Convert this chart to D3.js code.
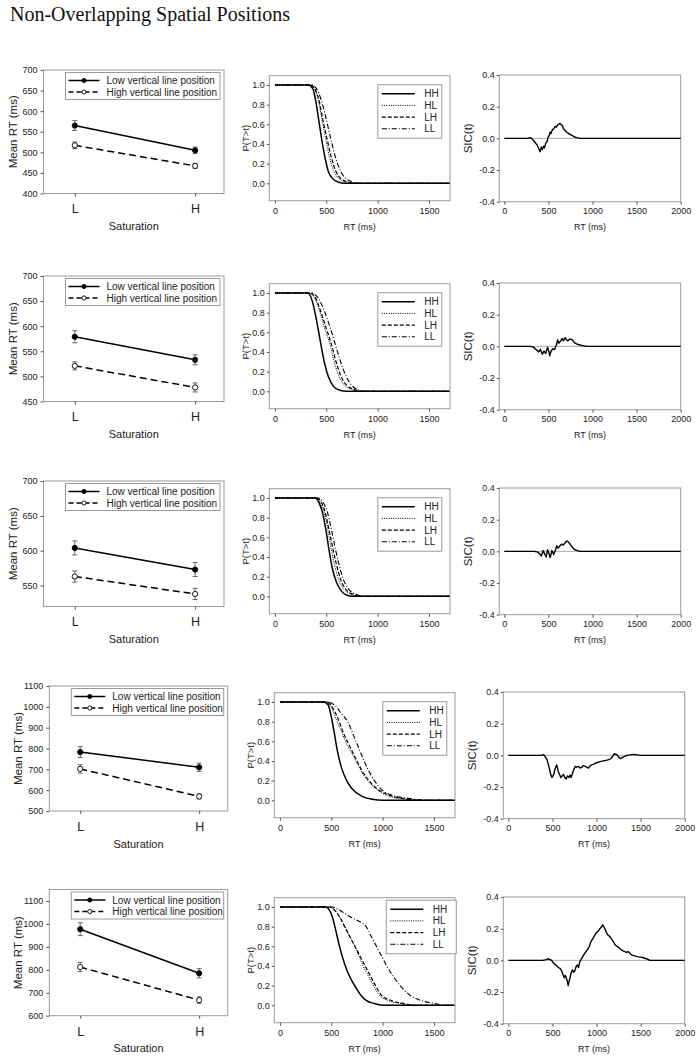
<!DOCTYPE html>
<html><head><meta charset="utf-8">
<script src="https://cdn.jsdelivr.net/npm/d3@7"></script>
<style>
body{margin:0;background:#fff;}
svg{display:block;}
text{font-family:"Liberation Sans",Arial,sans-serif;fill:#222;}
</style></head><body>
<svg id="c" width="700" height="1062"></svg>
<script>
// ---------------- DATA ----------------
const title = "Non-Overlapping Spatial Positions";
const saturation = ["L", "H"];
const meanSeriesNames = ["Low vertical line position", "High vertical line position"];
const condNames = ["HH", "HL", "LH", "LL"];

// Mean RT per row: [L, H]
const lowMean  = [[565,505],[579,533],[604,573],[783,710],[977,785]];
const lowErr   = [[12,8],[12,10],[10,10],[26,20],[28,20]];
const highMean = [[517,467],[521,478],[563,538],[702,570],[812,668]];
const highErr  = [[8,6],[8,9],[8,8],[20,12],[20,14]];
const meanDomains = [[400,700],[450,700],[520,700],[500,1100],[600,1150]];
const meanTicks = [
  [400,450,500,550,600,650,700],
  [450,500,550,600,650,700],
  [550,600,650,700],
  [500,600,700,800,900,1000,1100],
  [600,700,800,900,1000,1100]
];
const survTicksY = [0,0.2,0.4,0.6,0.8,1.0];
const survTicksX = [0,500,1000,1500];
const sicTicksY = [-0.4,-0.2,0,0.2,0.4];
const sicTicksX = [0,500,1000,1500,2000];

// Survivor functions P(T>t), one array per row: [t, p]
const survHH = [
 [[0,1],[330,1],[370,0.96],[400,0.82],[430,0.62],[460,0.42],[490,0.25],[520,0.12],[560,0.05],[620,0.01],[680,0],[1700,0]],
 [[0,1],[320,1],[360,0.93],[400,0.75],[440,0.52],[480,0.3],[520,0.15],[570,0.05],[630,0.01],[700,0],[1700,0]],
 [[0,1],[390,1],[430,0.95],[470,0.82],[500,0.65],[530,0.45],[560,0.28],[600,0.14],[650,0.05],[700,0.01],[760,0],[1700,0]],
 [[0,1],[430,1],[470,0.97],[500,0.85],[530,0.68],[560,0.5],[600,0.33],[650,0.2],[700,0.12],[800,0.04],[900,0.01],[1000,0],[1700,0]],
 [[0,1],[450,1],[480,0.97],[510,0.9],[535,0.8],[580,0.6],[630,0.42],[680,0.29],[740,0.18],[790,0.1],[840,0.05],[910,0.02],[1010,0],[1700,0]]
];
const survHL = [
 [[0,1],[340,1],[380,0.97],[420,0.85],[460,0.64],[500,0.42],[530,0.27],[570,0.13],[620,0.05],[700,0.01],[770,0],[1700,0]],
 [[0,1],[330,1],[390,0.94],[440,0.8],[490,0.62],[530,0.5],[570,0.33],[620,0.16],[680,0.06],[750,0.02],[830,0],[1700,0]],
 [[0,1],[400,1],[440,0.96],[480,0.85],[520,0.65],[550,0.47],[580,0.32],[620,0.17],[680,0.06],[740,0.02],[810,0],[1700,0]],
 [[0,1],[450,1],[500,0.95],[550,0.82],[600,0.7],[650,0.57],[700,0.48],[750,0.38],[800,0.28],[900,0.15],[1000,0.07],[1100,0.03],[1250,0.01],[1350,0],[1700,0]],
 [[0,1],[480,1],[520,0.98],[570,0.92],[620,0.83],[680,0.7],[730,0.6],[770,0.5],[810,0.4],[860,0.3],[910,0.2],[970,0.1],[1050,0.05],[1170,0.02],[1300,0],[1700,0]]
];
const survLH = [
 [[0,1],[345,1],[390,0.96],[430,0.84],[470,0.63],[510,0.44],[550,0.26],[590,0.13],[640,0.05],[720,0.01],[790,0],[1700,0]],
 [[0,1],[340,1],[400,0.94],[450,0.8],[500,0.64],[550,0.48],[590,0.32],[640,0.16],[700,0.06],[770,0.02],[850,0],[1700,0]],
 [[0,1],[405,1],[450,0.96],[490,0.85],[530,0.66],[565,0.48],[600,0.32],[640,0.17],[700,0.06],[760,0.02],[840,0],[1700,0]],
 [[0,1],[460,1],[520,0.93],[570,0.82],[620,0.68],[680,0.55],[740,0.42],[800,0.3],[900,0.16],[1000,0.08],[1100,0.04],[1250,0.01],[1400,0],[1700,0]],
 [[0,1],[480,1],[530,0.97],[580,0.9],[630,0.8],[680,0.7],[730,0.6],[780,0.5],[830,0.4],[880,0.3],[930,0.2],[990,0.1],[1080,0.05],[1200,0.02],[1340,0],[1700,0]]
];
const survLL = [
 [[0,1],[355,1],[400,0.97],[450,0.85],[500,0.65],[540,0.47],[580,0.3],[620,0.17],[670,0.07],[740,0.02],[830,0],[1700,0]],
 [[0,1],[350,1],[420,0.95],[480,0.82],[540,0.64],[590,0.47],[640,0.3],[690,0.16],[740,0.07],[800,0.02],[890,0],[1700,0]],
 [[0,1],[420,1],[460,0.97],[510,0.86],[550,0.68],[585,0.5],[620,0.34],[660,0.19],[720,0.07],[790,0.02],[870,0],[1700,0]],
 [[0,1],[470,1],[540,0.96],[600,0.88],[660,0.8],[720,0.65],[780,0.5],[850,0.33],[920,0.2],[1000,0.1],[1100,0.05],[1250,0.02],[1450,0],[1700,0]],
 [[0,1],[510,1],[560,0.98],[610,0.95],[700,0.89],[780,0.85],[840,0.8],[890,0.7],[940,0.6],[990,0.5],[1040,0.4],[1100,0.3],[1170,0.2],[1270,0.1],[1370,0.05],[1500,0.02],[1600,0],[1700,0]]
];

// SIC(t) per row: [t, sic]
const sic1 = [[0,0],[270,0],[290,0.005],[310,0],[340,-0.02],[370,-0.04],[395,-0.07],[405,-0.085],[420,-0.055],[430,-0.07],[445,-0.05],[455,-0.06],[470,-0.03],[485,-0.02],[495,0.005],[510,0.02],[520,0.04],[530,0.03],[545,0.055],[560,0.06],[575,0.075],[590,0.07],[605,0.085],[620,0.09],[632,0.095],[645,0.085],[660,0.08],[670,0.06],[690,0.05],[705,0.04],[720,0.035],[740,0.025],[765,0.02],[790,0.01],[820,0.005],[860,0],[2000,0]];
const sic2 = [[0,0],[290,0],[330,-0.005],[360,-0.02],[390,-0.035],[410,-0.02],[430,-0.05],[450,-0.03],[470,-0.045],[490,-0.005],[505,-0.03],[515,-0.06],[530,-0.03],[550,-0.015],[570,-0.02],[590,0.01],[605,0.04],[620,0.02],[640,0.035],[655,0.05],[670,0.035],[690,0.055],[705,0.04],[720,0.035],[740,0.045],[760,0.045],[780,0.035],[800,0.02],[820,0.015],[850,0.01],[880,0.005],[930,0],[2000,0]];
const sic3 = [[0,0],[340,0],[380,-0.005],[400,-0.015],[420,-0.03],[440,0.005],[460,-0.02],[475,-0.035],[490,0.01],[505,-0.01],[520,-0.04],[540,0.005],[560,-0.02],[580,0.01],[595,0.035],[610,0.02],[630,0.035],[650,0.045],[670,0.04],[690,0.055],[710,0.065],[725,0.06],[740,0.05],[760,0.035],[780,0.02],[800,0.01],[830,0.005],[860,0],[2000,0]];
const sic4 = [[0,0],[380,0],[400,0.005],[420,-0.01],[440,-0.03],[460,-0.07],[480,-0.12],[495,-0.14],[515,-0.12],[530,-0.085],[549,-0.06],[565,-0.1],[580,-0.12],[595,-0.14],[610,-0.13],[625,-0.12],[640,-0.14],[655,-0.15],[670,-0.13],[685,-0.14],[700,-0.125],[712,-0.14],[735,-0.1],[758,-0.07],[775,-0.075],[795,-0.07],[815,-0.08],[833,-0.075],[850,-0.065],[871,-0.07],[890,-0.075],[909,-0.08],[930,-0.065],[947,-0.06],[970,-0.055],[985,-0.05],[1010,-0.045],[1040,-0.04],[1080,-0.035],[1117,-0.03],[1150,-0.025],[1174,-0.015],[1190,0],[1201,0.01],[1231,0.005],[1250,-0.01],[1269,-0.02],[1290,-0.015],[1307,-0.01],[1345,0],[1383,0.003],[1420,0.006],[1458,0.003],[1496,0],[2000,0]];
const sic5 = [[0,0],[390,0],[430,0.005],[453,0.01],[475,0.005],[491,0],[510,-0.015],[528,-0.025],[550,-0.035],[566,-0.045],[585,-0.05],[604,-0.065],[620,-0.09],[634,-0.11],[645,-0.095],[653,-0.105],[668,-0.13],[679,-0.16],[690,-0.13],[700,-0.11],[712,-0.08],[728,-0.06],[742,-0.075],[755,-0.065],[768,-0.04],[781,-0.03],[795,-0.045],[810,-0.01],[830,0.01],[850,0.03],[868,0.045],[887,0.06],[906,0.075],[920,0.09],[936,0.12],[950,0.13],[962,0.14],[980,0.16],[1000,0.175],[1020,0.185],[1038,0.2],[1055,0.21],[1068,0.225],[1080,0.215],[1095,0.2],[1113,0.175],[1130,0.16],[1151,0.15],[1170,0.135],[1189,0.12],[1210,0.1],[1226,0.09],[1245,0.085],[1264,0.075],[1285,0.065],[1302,0.06],[1320,0.055],[1340,0.05],[1358,0.055],[1378,0.045],[1396,0.035],[1420,0.03],[1453,0.025],[1480,0.022],[1509,0.02],[1540,0.015],[1566,0.01],[1590,0.005],[1604,0],[2000,0]];
const sicRows = [sic1, sic2, sic3, sic4, sic5];

// ---------------- LAYOUT ----------------
const svg = d3.select("#c");
const frameColor = "#9a9a9a";
const tickColor = "#555";

const leftBoxes = [
  {x0:43.5, x1:224, y0:70, y1:193.5},
  {x0:43.5, x1:224, y0:276, y1:401.5},
  {x0:43.5, x1:224, y0:481, y1:606.5},
  {x0:49.3, x1:227.7, y0:686, y1:811},
  {x0:49.3, x1:227.7, y0:889.5, y1:1015.7}
];
const rowOff = [0, 208, 413, 617, 822];
const midShift = [0,0,0,5,5];
const rightShift = [0,0,0,4,4];

svg.append("text").attr("x", 10).attr("y", 21).text(title)
  .style("font-family", "'Liberation Serif','Times New Roman',serif")
  .style("font-size", "20px").style("fill", "#111");

function frame(g, b) {
  g.append("rect").attr("x", b.x0).attr("y", b.y0)
    .attr("width", b.x1 - b.x0).attr("height", b.y1 - b.y0)
    .attr("fill", "none").attr("stroke", frameColor).attr("stroke-width", 1);
}
function styleAxis(g, fs) {
  g.attr("font-family", null).attr("font-size", null);
  g.select(".domain").remove();
  g.selectAll(".tick line").attr("stroke", tickColor);
  g.selectAll(".tick text").style("font-size", fs + "px").attr("fill", "#222");
}

const condStyles = {
  HH: {dash: null, w: 1.5},
  HL: {dash: "1,1.3", w: 1},
  LH: {dash: "4,2", w: 1.2},
  LL: {dash: "5,2,1,2", w: 1.1}
};
const survByCond = {HH: survHH, HL: survHL, LH: survLH, LL: survLL};

for (let i = 0; i < 5; i++) {
  // ----- Left: mean RT -----
  const b = leftBoxes[i];
  const g = svg.append("g");
  const x = d3.scaleLinear().domain([-0.26, 1.24]).range([b.x0, b.x1]);
  const y = d3.scaleLinear().domain(meanDomains[i]).range([b.y1, b.y0]);
  frame(g, b);
  const ya = g.append("g").attr("transform", `translate(${b.x0},0)`)
    .call(d3.axisLeft(y).tickValues(meanTicks[i]).tickFormat(d3.format("d")).tickSize(3).tickPadding(3));
  styleAxis(ya, 9);
  const xa = g.append("g").attr("transform", `translate(0,${b.y1})`)
    .call(d3.axisBottom(x).tickValues([0, 1]).tickFormat(j => saturation[j]).tickSize(3).tickPadding(8));
  styleAxis(xa, 12.5);
  g.append("text").attr("x", (b.x0 + b.x1) / 2).attr("y", b.y1 + 36.5)
    .attr("text-anchor", "middle").style("font-size", "11px").text("Saturation");
  g.append("text").attr("transform", `translate(${b.x0 - 31},${(b.y0 + b.y1) / 2}) rotate(-90)`)
    .attr("text-anchor", "middle").attr("dy", "0.35em").style("font-size", "11.5px").text("Mean RT (ms)");

  const series = [
    {m: lowMean[i], e: lowErr[i], dash: null, fill: "#000"},
    {m: highMean[i], e: highErr[i], dash: "7,4", fill: "#fff"}
  ];
  const line = d3.line().x((d, j) => x(j)).y(d => y(d));
  series.forEach(s => {
    g.append("path").attr("d", line(s.m)).attr("fill", "none").attr("stroke", "#000")
      .attr("stroke-width", 1.5).attr("stroke-dasharray", s.dash);
    s.m.forEach((v, j) => {
      const e = s.e[j];
      g.append("line").attr("x1", x(j)).attr("x2", x(j)).attr("y1", y(v - e)).attr("y2", y(v + e))
        .attr("stroke", "#444").attr("stroke-width", 0.8);
      [v - e, v + e].forEach(c => g.append("line").attr("x1", x(j) - 2.5).attr("x2", x(j) + 2.5)
        .attr("y1", y(c)).attr("y2", y(c)).attr("stroke", "#444").attr("stroke-width", 0.8));
      g.append("circle").attr("cx", x(j)).attr("cy", y(v)).attr("r", 2.6)
        .attr("fill", s.fill).attr("stroke", "#000").attr("stroke-width", 0.9);
    });
  });
  // legend
  const lx = b.x0 + 22, ly = b.y0 + 2.5, lw = (b.x1 - 4) - lx;
  g.append("rect").attr("x", lx).attr("y", ly).attr("width", lw).attr("height", 27)
    .attr("fill", "#fff").attr("stroke", frameColor);
  series.forEach((s, k) => {
    const yy = ly + 8 + k * 11.5;
    g.append("line").attr("x1", lx + 3).attr("x2", lx + 34).attr("y1", yy).attr("y2", yy)
      .attr("stroke", "#000").attr("stroke-width", 1.5).attr("stroke-dasharray", s.dash ? "5,3" : null);
    g.append("circle").attr("cx", lx + 18.5).attr("cy", yy).attr("r", 2.1)
      .attr("fill", s.fill).attr("stroke", "#000").attr("stroke-width", 0.9);
    g.append("text").attr("x", lx + 41).attr("y", yy).attr("dy", "0.35em")
      .style("font-size", "10px").text(meanSeriesNames[k]);
  });

  // ----- Middle: survivor functions -----
  const mb = {x0: 269.3 + midShift[i], x1: 450 + midShift[i], y0: 75.7 + rowOff[i], y1: 200.7 + rowOff[i]};
  const gm = svg.append("g");
  const mx = d3.scaleLinear().domain([-55, 1705]).range([mb.x0, mb.x1]);
  const my = d3.scaleLinear().domain([-0.177, 1.0946]).range([mb.y1, mb.y0]);
  frame(gm, mb);
  const mya = gm.append("g").attr("transform", `translate(${mb.x0},0)`)
    .call(d3.axisLeft(my).tickValues(survTicksY).tickFormat(d => d.toFixed(1)).tickSize(2.5).tickPadding(2));
  styleAxis(mya, 9);
  const mxa = gm.append("g").attr("transform", `translate(0,${mb.y1})`)
    .call(d3.axisBottom(mx).tickValues(survTicksX).tickFormat(d3.format("d")).tickSize(3).tickPadding(4));
  styleAxis(mxa, 9);
  gm.append("text").attr("x", (mb.x0 + mb.x1) / 2).attr("y", mb.y1 + 29.5)
    .attr("text-anchor", "middle").style("font-size", "9px").text("RT (ms)");
  gm.append("text").attr("transform", `translate(${mb.x0 - 23.6},${(mb.y0 + mb.y1) / 2}) rotate(-90)`)
    .attr("text-anchor", "middle").attr("dy", "0.35em").style("font-size", "9.5px").text("P(T>t)");
  const sline = d3.line().x(d => mx(d[0])).y(d => my(d[1])).curve(d3.curveMonotoneX);
  condNames.forEach(c => {
    gm.append("path").attr("d", sline(survByCond[c][i])).attr("fill", "none").attr("stroke", "#000")
      .attr("stroke-width", condStyles[c].w).attr("stroke-dasharray", condStyles[c].dash);
  });
  const mlx = mb.x0 + (i === 4 ? 112 : 108.5), mly = mb.y0 + (i === 4 ? 2.5 : 9), mlw = (i === 4 ? 70 : 64);
  gm.append("rect").attr("x", mlx).attr("y", mly).attr("width", mlw).attr("height", 53.5)
    .attr("fill", "#fff").attr("stroke", frameColor);
  condNames.forEach((c, k) => {
    const yy = mly + 9 + k * 11.7;
    gm.append("line").attr("x1", mlx + 4).attr("x2", mlx + 37).attr("y1", yy).attr("y2", yy)
      .attr("stroke", "#000").attr("stroke-width", condStyles[c].w).attr("stroke-dasharray", condStyles[c].dash);
    gm.append("text").attr("x", mlx + 46.5).attr("y", yy).attr("dy", "0.35em")
      .style("font-size", "10px").text(c);
  });

  // ----- Right: SIC -----
  const rb = {x0: 499.3 + rightShift[i], x1: 680.7 + rightShift[i], y0: 75 + rowOff[i], y1: 201.7 + rowOff[i]};
  const gr = svg.append("g");
  const rx = d3.scaleLinear().domain([-57, 2000]).range([rb.x0, rb.x1]);
  const ry = d3.scaleLinear().domain([-0.4, 0.4]).range([rb.y1, rb.y0]);
  frame(gr, rb);
  const rya = gr.append("g").attr("transform", `translate(${rb.x0},0)`)
    .call(d3.axisLeft(ry).tickValues(sicTicksY).tickFormat(d => d.toFixed(1)).tickSize(2.5).tickPadding(2));
  styleAxis(rya, 9);
  const rxa = gr.append("g").attr("transform", `translate(0,${rb.y1})`)
    .call(d3.axisBottom(rx).tickValues(sicTicksX).tickFormat(d3.format("d")).tickSize(3).tickPadding(3));
  styleAxis(rxa, 9);
  gr.append("text").attr("x", (rb.x0 + rb.x1) / 2).attr("y", rb.y1 + 28)
    .attr("text-anchor", "middle").style("font-size", "9px").text("RT (ms)");
  gr.append("text").attr("transform", `translate(${rb.x0 - 31},${(rb.y0 + rb.y1) / 2}) rotate(-90)`)
    .attr("text-anchor", "middle").attr("dy", "0.35em").style("font-size", "11.5px").text("SIC(t)");
  gr.append("line").attr("x1", rx(0)).attr("x2", rx(2000)).attr("y1", ry(0)).attr("y2", ry(0))
    .attr("stroke", "#aaa").attr("stroke-width", 1);
  const rline = d3.line().x(d => rx(d[0])).y(d => ry(d[1]));
  gr.append("path").attr("d", rline(sicRows[i])).attr("fill", "none").attr("stroke", "#000")
    .attr("stroke-width", 1.4).attr("stroke-linejoin", "round");
}
</script>
</body></html>
